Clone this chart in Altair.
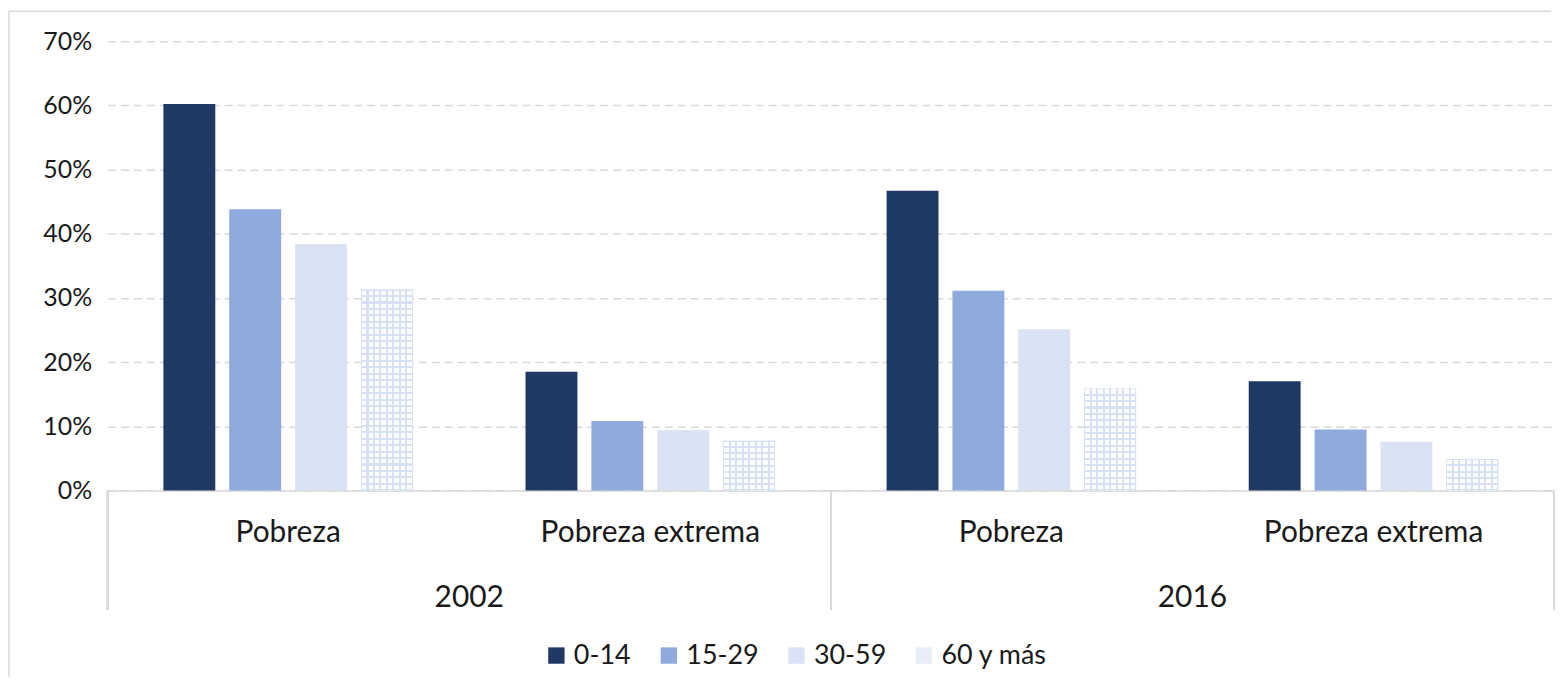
import altair as alt
import pandas as pd

years = ["2002", "2002", "2016", "2016"]
types = ["Pobreza", "Pobreza extrema", "Pobreza", "Pobreza extrema"]
ages = ["0-14", "15-29", "30-59", "60 y más"]
v_0_14 = [60.2, 18.5, 46.7, 17.0]
v_15_29 = [43.8, 10.8, 31.1, 9.5]
v_30_59 = [38.4, 9.4, 25.1, 7.6]
v_60 = [31.3, 7.75, 15.9, 4.9]
series = [v_0_14, v_15_29, v_30_59, v_60]
y_ticks = [0, 10, 20, 30, 40, 50, 60, 70]

rows = []
for a, vals in zip(ages, series):
    for y, t, v in zip(years, types, vals):
        rows.append({"year": y, "type": t, "age": a, "value": v})
df = pd.DataFrame(rows)

FONT = "Lato"
TXT = "#1a1a1a"
GRID = "#D9D9D9"
LINE = "#D8E1F3"
W, H = 726, 451
type_domain = ["Pobreza", "Pobreza extrema"]


def stripes(n, half, line, bg, x2, y2):
    stops = []
    for k in range(n + 1):
        c = k / n
        a = max(0.0, c - half)
        b = min(1.0, c + half)
        if k == 0:
            stops += [(0.0, line), (b, line), (b, bg)]
        elif k == n:
            stops += [(a, bg), (a, line), (1.0, line)]
        else:
            stops += [(a, bg), (a, line), (b, line), (b, bg)]
    return alt.LinearGradient(
        gradient="linear",
        stops=[alt.GradientStop(offset=o, color=c) for o, c in stops],
        x1=0, y1=0, x2=x2, y2=y2,
    )


x_enc = alt.X(
    "type:N", sort=type_domain, title=None,
    scale=alt.Scale(domain=type_domain, paddingInner=0.311, paddingOuter=0.154),
    axis=alt.Axis(labelAngle=0, ticks=False, domainColor=GRID, domainWidth=1.5,
                  labelFontSize=30, labelFont=FONT, labelColor=TXT, labelPadding=27,
                  labelLimit=500),
)
xo_enc = alt.XOffset("age:N", sort=ages,
                     scale=alt.Scale(domain=ages, paddingInner=0.212, paddingOuter=0))
y_enc = alt.Y(
    "value:Q", title=None,
    scale=alt.Scale(domain=[0, 70], nice=False),
    axis=alt.Axis(values=y_ticks, labelExpr="datum.value + '%'", domain=False, ticks=False,
                  gridColor=GRID, gridDash=[8, 5], gridWidth=1.5,
                  labelFontSize=25, labelFont=FONT, labelColor=TXT, labelPadding=16),
)

base = alt.Chart().encode(x=x_enc, xOffset=xo_enc, y=y_enc)

bars = base.mark_bar().encode(
    color=alt.Color(
        "age:N", sort=ages,
        scale=alt.Scale(domain=ages, range=["#203864", "#8FAADC", "#DAE3F3", "#E8EDF8"]),
        legend=alt.Legend(
            title=None, orient="none", direction="horizontal", legendX=437, legendY=603,
            symbolType="square", symbolSize=270, symbolStrokeWidth=0,
            labelFontSize=27, labelFont=FONT, labelColor=TXT, labelOffset=4,
            columnPadding=24, padding=0,
        ),
    )
)

vstripes = base.mark_bar(fill=stripes(8, 0.02, LINE, "#ffffff", 1, 0)).transform_filter(
    alt.datum.age == "60 y más"
)

layers = [bars, vstripes]
for y, t, v in zip(years, types, v_60):
    n = max(1, round(v))
    half = 0.16 / v
    layers.append(
        base.mark_bar(fill=stripes(n, half, LINE, "rgba(255,255,255,0)", 0, 1)).transform_filter(
            (alt.datum.age == "60 y más") & (alt.datum.year == y) & (alt.datum.type == t)
        )
    )

sep_left = alt.Chart().mark_rule(color=GRID, strokeWidth=1.5).encode(
    x=alt.value(0), y=alt.value(H), y2=alt.value(H + 120)
)
sep_right = alt.Chart().mark_rule(color=GRID, strokeWidth=1.5).encode(
    x=alt.value(W), y=alt.value(H), y2=alt.value(H + 120)
)
year_text = (
    alt.Chart()
    .mark_text(font=FONT, fontSize=30, color=TXT, baseline="middle", align="center")
    .encode(x=alt.value(W / 2), y=alt.value(H + 108), text="year:N")
    .transform_filter((alt.datum.age == "0-14") & (alt.datum.type == "Pobreza"))
)

# chart-area frame (top and left edges, as in the reference)
first_row = (alt.datum.age == "0-14") & (alt.datum.type == "Pobreza") & (alt.datum.year == "2002")
frame_top = (
    alt.Chart()
    .mark_rule(color=GRID, strokeWidth=1.5)
    .encode(x=alt.value(-99), x2=alt.value(2 * W - 3), y=alt.value(-30))
    .transform_filter(first_row)
)
frame_left = (
    alt.Chart()
    .mark_rule(color=GRID, strokeWidth=1.5)
    .encode(x=alt.value(-99), y=alt.value(-30), y2=alt.value(H + 187))
    .transform_filter(first_row)
)
layers += [sep_left, sep_right, year_text, frame_top, frame_left]

chart = (
    alt.layer(*layers)
    .properties(width=W, height=H)
    .facet(
        column=alt.Column("year:N", title=None, header=alt.Header(labels=False)),
        data=df,
        spacing=0,
        bounds="flush",
    )
    .resolve_scale(x="independent", xOffset="independent")
    .configure_view(stroke=None)
    .properties(padding={"top": 1, "left": 0, "right": 2, "bottom": 0})
)

chart.save("out.html", embed_options={"renderer": "svg", "actions": False})
